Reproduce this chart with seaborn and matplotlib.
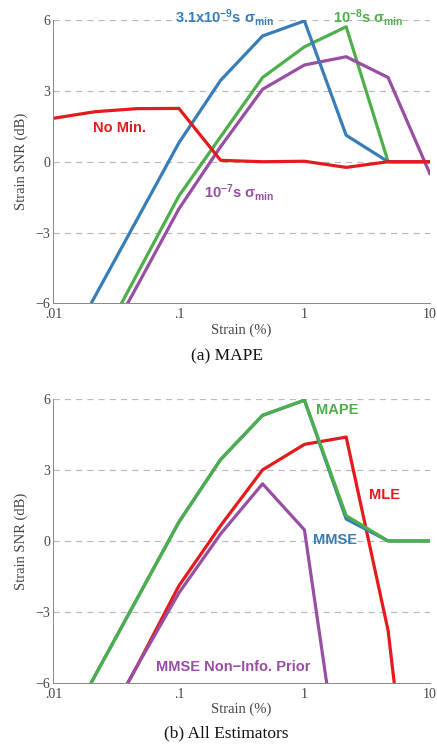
import numpy as np
import pandas as pd
import matplotlib
matplotlib.use("Agg")
import matplotlib.pyplot as plt
from matplotlib.ticker import FixedLocator, FixedFormatter, LogLocator, NullFormatter
import seaborn as sns

# Strain sample points (% strain, three per decade)
strain = [0.01, 0.0215, 0.0464, 0.1, 0.215, 0.464, 1.0, 2.15, 4.64, 10.0]

# (a) MAPE estimator for several sigma_min settings, strain SNR in dB
snr_sigma_31e9 = [-9.0, -5.7, -2.45, 0.8, 3.45, 5.33, 5.97, 1.12, 0.0, 0.0]
snr_sigma_1e8 = [-10.0, -8.1, -4.77, -1.45, 1.06, 3.57, 4.87, 5.72, 0.0, 0.0]
snr_sigma_1e7 = [-11.5, -8.5, -5.28, -2.0, 0.64, 3.07, 4.1, 4.45, 3.57, -0.52]
snr_no_min = [1.84, 2.12, 2.25, 2.26, 0.06, 0.0, 0.02, -0.24, 0.0, 0.0]

# (b) comparison of estimators
snr_mle = [-11.5, -8.5, -5.3, -1.9, 0.65, 3.01, 4.09, 4.4, -3.8, -19.0]
snr_mmse = [-9.0, -5.7, -2.45, 0.8, 3.45, 5.32, 5.96, 0.93, 0.0, 0.0]
snr_mape = [-9.0, -5.7, -2.45, 0.8, 3.45, 5.32, 5.96, 1.07, 0.0, 0.0]
snr_mmse_noninfo = [-11.5, -8.6, -5.3, -2.2, 0.3, 2.42, 0.47, -11.7, -20.0, -20.0]

set1 = sns.color_palette("Set1")
RED, BLUE, GREEN, PURPLE = set1[0], set1[1], set1[2], set1[3]

sns.set_style("white")
plt.rcParams["font.family"] = ["Liberation Serif", "DejaVu Serif"]
plt.rcParams["mathtext.fontset"] = "custom"
plt.rcParams["mathtext.rm"] = "Liberation Sans:bold"
plt.rcParams["mathtext.it"] = "Liberation Sans:bold"
plt.rcParams["mathtext.bf"] = "Liberation Sans:bold"
plt.rcParams["mathtext.sf"] = "Liberation Sans:bold"

fig = plt.figure(figsize=(4.37, 7.47), dpi=100)
ax_a = fig.add_axes([0.122, 0.594, 0.862, 0.379])
ax_b = fig.add_axes([0.122, 0.0861, 0.862, 0.3794])


def long_frame(series):
    rows = []
    for name, vals in series.items():
        for x, y in zip(strain, vals):
            rows.append({"strain": x, "snr": y, "curve": name})
    return pd.DataFrame(rows)


def style_axes(ax):
    ax.set_xscale("log")
    ax.set_xlim(0.01, 10)
    ax.set_ylim(-6, 6)
    ax.xaxis.set_major_locator(FixedLocator([0.01, 0.1, 1, 10]))
    ax.xaxis.set_major_formatter(FixedFormatter([".01", ".1", "1", "10"]))
    ax.xaxis.set_minor_locator(LogLocator(base=10, subs=np.arange(2, 10)))
    ax.xaxis.set_minor_formatter(NullFormatter())
    ax.set_yticks([-6, -3, 0, 3, 6])
    ax.set_yticklabels(["\u22126", "\u22123", "0", "3", "6"])
    ax.tick_params(axis="both", which="major", direction="in", length=4,
                   width=0.7, color="#777777", labelsize=10, labelcolor="#444444")
    ax.tick_params(axis="x", which="minor", direction="in", length=2,
                   width=0.6, color="#777777")
    ax.tick_params(axis="x", which="major", pad=3.5)
    ax.tick_params(axis="y", which="major", pad=2)
    for side in ("top", "right"):
        ax.spines[side].set_visible(False)
    for side in ("left", "bottom"):
        ax.spines[side].set_color("#888888")
        ax.spines[side].set_linewidth(0.7)
    for yv in (-3, 0, 3, 6):
        ax.axhline(yv, color="#bbbbbb", lw=0.9, ls=(0, (5, 4)), zorder=0)
    ax.set_xlabel("Strain (%)", fontsize=10.5, color="#444444")
    ax.set_ylabel("Strain SNR (dB)", fontsize=10.5, color="#444444")
    ax.xaxis.set_label_coords(0.5, -0.07)
    ax.yaxis.set_label_coords(-0.068, 0.5)


# (a) MAPE
df_a = long_frame({
    "3.1e-9": snr_sigma_31e9,
    "1e-8": snr_sigma_1e8,
    "1e-7": snr_sigma_1e7,
    "none": snr_no_min,
})
sns.lineplot(data=df_a, x="strain", y="snr", hue="curve",
             hue_order=["1e-8", "1e-7", "3.1e-9", "none"],
             palette={"3.1e-9": BLUE, "1e-8": GREEN, "1e-7": PURPLE, "none": RED},
             lw=2.3, legend=False, ax=ax_a, estimator=None, sort=False)
style_axes(ax_a)

lab_kw = dict(fontsize=10.5, fontweight="bold", family="Liberation Sans",
              va="center", ha="left")
ax_a.text(0.093, 6.12, "3.1x10$^{-9}$s σ$_{min}$", color=BLUE, **lab_kw)
ax_a.text(1.69, 6.12, "10$^{-8}$s σ$_{min}$", color=GREEN, **lab_kw)
ax_a.text(0.0208, 1.44, "No Min.", color=RED, **lab_kw)
ax_a.text(0.158, -1.3, "10$^{-7}$s σ$_{min}$", color=PURPLE, **lab_kw)

# (b) All estimators
df_b = long_frame({
    "MLE": snr_mle,
    "MMSE": snr_mmse,
    "MAPE": snr_mape,
    "MMSE Non-Info. Prior": snr_mmse_noninfo,
})
sns.lineplot(data=df_b, x="strain", y="snr", hue="curve",
             hue_order=["MLE", "MMSE", "MAPE", "MMSE Non-Info. Prior"],
             palette={"MLE": RED, "MMSE": BLUE, "MAPE": GREEN,
                      "MMSE Non-Info. Prior": PURPLE},
             lw=2.3, legend=False, ax=ax_b, estimator=None, sort=False)
style_axes(ax_b)

ax_b.text(1.23, 5.53, "MAPE", color=GREEN, **lab_kw)
ax_b.text(3.28, 1.95, "MLE", color=RED, **lab_kw)
ax_b.text(1.175, 0.05, "MMSE", color=BLUE, **lab_kw)
ax_b.text(0.0657, -5.33, "MMSE Non\u2212Info. Prior", color=PURPLE, **lab_kw)

fig.text(226.5 / 437, 1 - 356 / 747, "(a) MAPE", fontsize=12.5,
         ha="center", va="center", color="#111111")
fig.text(226.5 / 437, 1 - 733 / 747, "(b) All Estimators", fontsize=12.5,
         ha="center", va="center", color="#111111")

fig.savefig("out.png", dpi=100)
